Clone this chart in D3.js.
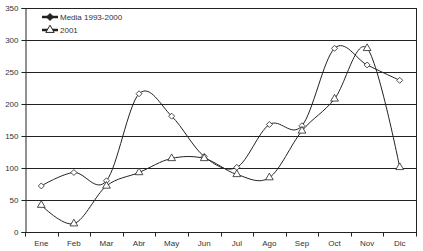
<!DOCTYPE html>
<html><head><meta charset="utf-8">
<script src="https://cdn.jsdelivr.net/npm/d3@7"></script>
<style>body{margin:0;background:#fff}svg{display:block}text{font-family:"Liberation Sans",Arial,sans-serif;fill:#333}</style>
</head><body><svg id="c" width="423" height="251"></svg>
<script>
const months = ["Ene","Feb","Mar","Abr","May","Jun","Jul","Ago","Sep","Oct","Nov","Dic"];
const media = [72,93,80,216,181,118,101,168,166,287,261,237];
const y2001 = [42,13,72,93,115,115,90,85,158,208,287,101];
const yTicks = [0,50,100,150,200,250,300,350];
const seriesNames = ["Media 1993-2000","2001"];

const svg = d3.select("#c");
const L=25,R=416,T=8,B=232;
const x = d3.scaleBand().domain(months).range([L,R]);
const y = d3.scaleLinear().domain([0,350]).range([B,T]);
const ink="#222";

// gridlines
svg.append("g").selectAll("line").data(yTicks.filter(d=>d>0)).join("line")
 .attr("x1",L).attr("x2",R).attr("y1",d=>Math.round(y(d))+0.5).attr("y2",d=>Math.round(y(d))+0.5)
 .attr("stroke",ink).attr("stroke-width",1);
// right border
svg.append("line").attr("x1",R+0.5).attr("x2",R+0.5).attr("y1",T).attr("y2",B).attr("stroke",ink);

// y axis
const ya = svg.append("g").attr("transform",`translate(${L+0.5},0)`)
 .call(d3.axisLeft(y).tickValues(yTicks).tickSize(4).tickPadding(3));
ya.select(".domain").attr("stroke",ink);
ya.selectAll(".tick line").attr("stroke",ink);
ya.selectAll("text").style("font-size","8px").attr("fill","#333");

// x axis
const xa = svg.append("g").attr("transform",`translate(0,${B+0.5})`)
 .call(d3.axisBottom(x).tickSize(0).tickPadding(8));
xa.select(".domain").attr("stroke",ink).attr("d",`M${L},0H${R+1}`);
xa.selectAll("text").style("font-size","8px").attr("fill","#333");
xa.append("g").selectAll("line").data(months.map((m,i)=>i).concat([12])).join("line")
 .attr("x1",i=>Math.round(L+i*x.bandwidth())+0.5).attr("x2",i=>Math.round(L+i*x.bandwidth())+0.5)
 .attr("y1",0).attr("y2",4).attr("stroke",ink);

const cx = m => x(m)+x.bandwidth()/2;
const line = d3.line().x((d,i)=>cx(months[i])).y(d=>y(d)).curve(d3.curveCardinal.tension(0));

svg.append("path").attr("d",line(media)).attr("fill","none").attr("stroke",ink).attr("stroke-width",1);
svg.append("path").attr("d",line(y2001)).attr("fill","none").attr("stroke",ink).attr("stroke-width",1);

const diamondPath = r => `M0,${-r}L${r},0L0,${r}L${-r},0Z`;
const tri = d3.symbol().type(d3.symbolTriangle).size(26);
svg.append("g").selectAll("path").data(media).join("path")
 .attr("d",diamondPath(3)).attr("transform",(d,i)=>`translate(${cx(months[i])},${y(d)})`)
 .attr("fill","#fff").attr("stroke",ink).attr("stroke-width",0.8);
svg.append("g").selectAll("path").data(y2001).join("path")
 .attr("d",tri).attr("transform",(d,i)=>`translate(${cx(months[i])},${y(d)})`)
 .attr("fill","#fff").attr("stroke",ink).attr("stroke-width",0.8);

// legend
const lg = svg.append("g");
[0,1].forEach(k=>{
  const yy = 17 + k*13;
  lg.append("line").attr("x1",42).attr("x2",58).attr("y1",yy).attr("y2",yy).attr("stroke",ink).attr("stroke-width",2.5);
  lg.append("path").attr("d",k===0?diamondPath(3.5):d3.symbol().type(d3.symbolTriangle).size(30)())
    .attr("transform",`translate(50,${yy})`).attr("fill",k===0?ink:"#fff").attr("stroke",ink).attr("stroke-width",1);
  lg.append("text").attr("x",60).attr("y",yy+3).style("font-size","8px").text(seriesNames[k]);
});
</script></body></html>
